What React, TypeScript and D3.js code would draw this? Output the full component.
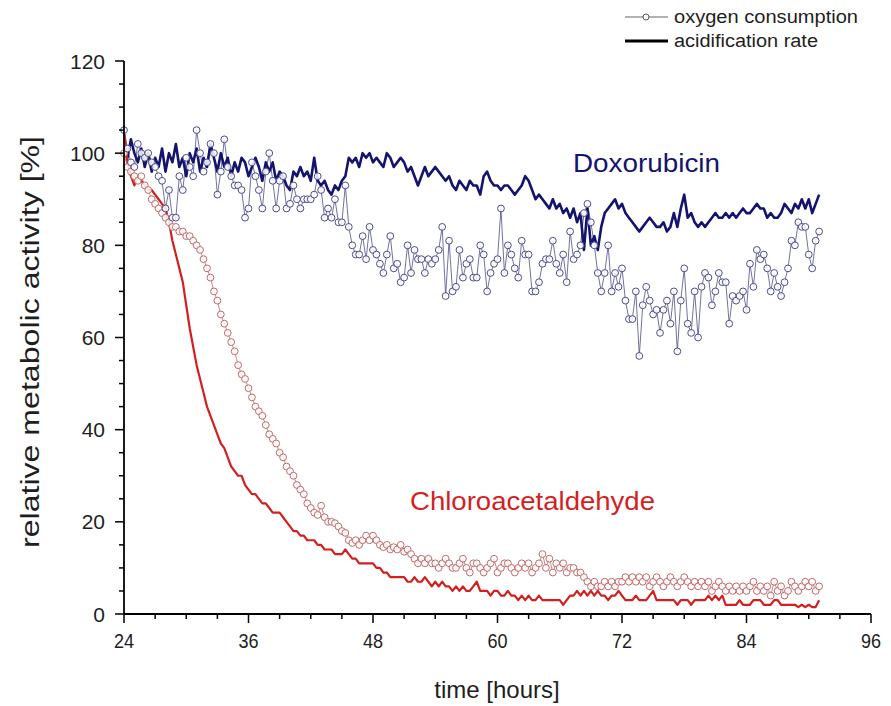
import React from "react";
import * as d3 from "d3";

const startHour = 24;
const stepHours = 1 / 3;

const doxAcidification = [
  100, 99, 103, 100, 98, 101, 97, 100, 96, 99, 97, 101, 96, 100, 98, 102, 97, 99,
  95, 100, 98, 101, 96, 99, 97, 102, 99, 96, 100, 97, 99, 95, 98, 96, 99, 98,
  95, 97, 99, 97, 94, 98, 96, 98, 94, 96, 95, 93, 92, 96, 95, 97, 95, 96,
  94, 99, 94, 93, 94, 92, 91, 93, 92, 94, 95, 99, 98, 99, 97, 100, 99, 100,
  98, 99, 98, 97, 100, 99, 97, 98, 99, 98, 96, 97, 95, 93, 95, 97, 95, 96,
  97, 96, 95, 94, 95, 93, 92, 94, 93, 92, 94, 93, 93, 91, 95, 96, 94, 93,
  93, 92, 93, 93, 92, 91, 92, 93, 95, 94, 92, 90, 91, 90, 89, 88, 90, 88,
  89, 87, 88, 86, 88, 85, 87, 79, 88, 80, 82, 79, 84, 87, 88, 89, 90, 88,
  89, 87, 86, 85, 84, 83, 84, 85, 86, 85, 84, 84, 85, 83, 84, 87, 84, 88,
  91, 86, 87, 85, 84, 85, 84, 85, 86, 87, 86, 86, 87, 86, 87, 86, 87, 88,
  87, 87, 88, 89, 88, 88, 86, 87, 86, 86, 87, 89, 88, 87, 89, 88, 90, 88,
  90, 87, 89, 91,
];

const doxOxygen = [
  105, 101, 98, 97, 102, 100, 99, 100, 98, 97, 95, 94, 88, 92, 86, 86, 95, 92,
  99, 97, 95, 105, 100, 96, 98, 102, 100, 91, 96, 103, 97, 95, 93, 93, 92, 86,
  88, 98, 95, 92, 88, 96, 100, 94, 88, 94, 95, 88, 89, 93, 90, 88, 90, 90,
  90, 91, 95, 92, 86, 88, 86, 90, 85, 85, 93, 84, 80, 78, 78, 82, 77, 84,
  79, 78, 76, 74, 78, 82, 75, 76, 72, 73, 80, 74, 79, 77, 77, 74, 77, 76,
  77, 79, 84, 69, 81, 70, 71, 79, 73, 76, 77, 73, 73, 80, 78, 70, 74, 76,
  77, 88, 74, 80, 78, 75, 73, 81, 78, 78, 70, 70, 72, 76, 77, 77, 81, 76,
  74, 78, 72, 83, 77, 78, 80, 87, 89, 85, 80, 74, 70, 74, 80, 70, 74, 71,
  75, 68, 64, 64, 70, 56, 67, 71, 68, 65, 66, 61, 66, 68, 63, 70, 57, 68,
  75, 63, 61, 70, 60, 71, 74, 73, 67, 70, 74, 72, 72, 63, 69, 68, 69, 70,
  66, 76, 71, 79, 77, 78, 75, 70, 74, 71, 69, 72, 75, 81, 80, 85, 84, 84,
  78, 75, 81, 83,
];

const caaAcidification = [
  105, 98, 95, 93, 95, 94, 93, 92, 92, 91, 90, 89, 88, 85, 81, 78, 75, 72,
  67, 62, 58, 54, 51, 48, 45, 43, 41, 39, 37, 36, 34, 32, 31, 30, 30, 28,
  27, 26, 26, 25, 24, 24, 23, 22, 22, 22, 21, 20, 19, 18, 18, 17, 17, 16,
  16, 16, 15, 15, 14, 14, 14, 13, 13, 13, 14, 13, 12, 12, 11, 11, 11, 11,
  11, 10, 10, 9, 9, 8, 8, 8, 8, 8, 7, 7, 8, 7, 7, 8, 7, 6, 7, 6, 7,
  6, 6, 5, 6, 5, 6, 5, 5, 6, 7, 5, 5, 5, 4, 5, 5, 4, 4, 5, 4, 4,
  3, 4, 3, 4, 3, 3, 4, 3, 3, 3, 3, 3, 3, 2, 3, 4, 4, 5, 4, 5, 4,
  5, 4, 5, 4, 4, 3, 4, 4, 5, 4, 3, 3, 3, 4, 3, 3, 3, 4, 5, 3, 3,
  3, 3, 3, 3, 2, 3, 3, 3, 2, 3, 3, 3, 3, 4, 3, 4, 3, 4, 2, 2, 2,
  2, 3, 2, 2, 2, 3, 3, 3, 2, 2, 2, 3, 3, 2, 2, 2, 2, 2, 1.5, 2, 1.5,
  2, 1.5, 1.5, 3,
];

const caaOxygen = [
  100, 97, 96, 95, 94, 95, 93, 92, 90, 89, 88, 87, 86, 85, 84, 84, 83, 83,
  82, 82, 81, 80, 79, 77, 75, 73, 70, 68, 65, 63, 61, 59, 57, 54, 52, 51,
  49, 47, 45, 44, 43, 41, 39, 38, 37, 35, 34, 32, 31, 30, 28, 27, 26, 24,
  23, 22, 21.5, 23.5, 21, 20, 20, 19.7, 19, 18, 17.6, 16, 15.4, 16, 15, 16, 17, 16,
  17, 16, 15, 14.5, 15, 14, 14.5, 14, 15, 13.5, 14, 13, 12, 11, 12, 11, 12, 11,
  11, 10, 11, 12, 11, 10, 10, 11, 12, 10, 9, 11, 11, 10, 9, 10, 11, 12,
  9, 10, 11, 11, 10, 9, 10, 11, 10, 11, 9, 10, 11, 13, 10, 12, 9, 11,
  10, 11, 9, 10, 10, 9, 9, 8, 7, 6, 7, 6, 6, 7, 6, 7, 6, 7,
  7, 8, 7, 8, 7, 8, 7, 8, 6, 7, 8, 7, 6, 7, 8, 7, 6, 7,
  8, 7, 6, 7, 6, 7, 6, 7, 5, 6, 7, 6, 5, 6, 5, 6, 5, 6,
  5, 6, 7, 5, 6, 5, 6, 4, 7, 5, 6, 4, 5, 7, 6, 5, 6, 7,
  6, 7, 5, 6,
];

const xTicks = [24, 36, 48, 60, 72, 84, 96];
const yTicks = [0, 20, 40, 60, 80, 100, 120];

const W = 891;
const H = 706;
const x = d3.scaleLinear().domain([24, 96]).range([124, 871]);
const y = d3.scaleLinear().domain([0, 120]).range([614, 61]);

const toPoints = (vals: number[]) =>
  vals.map((v, i) => ({ t: startHour + i * stepHours, v }));

const line = d3
  .line<{ t: number; v: number }>()
  .x((d) => x(d.t))
  .y((d) => y(d.v));

const FONT = "'Liberation Sans', Arial, sans-serif";
const NAVY = "#14146e";
const NAVY_LIGHT = "#4c4c8c";
const RED = "#d41f1f";
const RED_LIGHT = "#c06a6a";
const TXT = "#1e1e1e";

export default function App() {
  const doxA = toPoints(doxAcidification);
  const doxO = toPoints(doxOxygen);
  const caaA = toPoints(caaAcidification);
  const caaO = toPoints(caaOxygen);
  const xMinor = d3.range(24, 96.01, 3);
  const yMinor = d3.range(0, 120.01, 5);

  return (
    <div style={{ position: "absolute", left: 0, top: 0 }}>
      <svg width={W} height={H} style={{ display: "block", background: "#fff" }}>
        {/* data lines */}
        <path d={line(caaO) || ""} fill="none" stroke={RED_LIGHT} strokeWidth={0.8} />
        <path d={line(doxO) || ""} fill="none" stroke={NAVY_LIGHT} strokeWidth={0.8} />
        <path d={line(doxA) || ""} fill="none" stroke={NAVY} strokeWidth={2.6} strokeLinejoin="round" />
        <path d={line(caaA) || ""} fill="none" stroke={RED} strokeWidth={2.2} strokeLinejoin="round" />
        {caaO.map((d, i) => (
          <circle key={"c" + i} cx={x(d.t)} cy={y(d.v)} r={3.4} fill="#fff" fillOpacity={0.85} stroke={RED_LIGHT} strokeWidth={1} />
        ))}
        {doxO.map((d, i) => (
          <circle key={"d" + i} cx={x(d.t)} cy={y(d.v)} r={3.4} fill="#fff" fillOpacity={0.85} stroke={NAVY_LIGHT} strokeWidth={1} />
        ))}

        {/* axes */}
        <line x1={x(24)} x2={x(24)} y1={y(0)} y2={y(120)} stroke="#000" strokeWidth={1.8} />
        <line x1={x(24)} x2={x(96)} y1={y(0)} y2={y(0)} stroke="#000" strokeWidth={1.8} />
        {xMinor.map((t) => (
          <line key={"xm" + t} x1={x(t)} x2={x(t)} y1={y(0)} y2={y(0) + (t % 12 === 0 ? 9 : 5)} stroke="#000" strokeWidth={1.5} />
        ))}
        {yMinor.map((v) => (
          <line key={"ym" + v} x1={x(24)} x2={x(24) - (v % 20 === 0 ? 9 : 5)} y1={y(v)} y2={y(v)} stroke="#000" strokeWidth={1.5} />
        ))}
        {xTicks.map((t) => (
          <text
            key={"xt" + t}
            transform={`translate(${x(t)},${y(0) + 34}) scale(0.86,1)`}
            textAnchor="middle"
            fontFamily={FONT}
            fontSize={21}
            fill={TXT}
          >
            {t}
          </text>
        ))}
        {yTicks.map((v) => (
          <text key={"yt" + v} x={x(24) - 19} y={y(v) + 7.5} textAnchor="end" fontFamily={FONT} fontSize={21} fill={TXT}>
            {v}
          </text>
        ))}
        <text x={497} y={698} textAnchor="middle" fontFamily={FONT} fontSize={24} fill={TXT}>
          time [hours]
        </text>
        <text
          transform={`translate(39,342) rotate(-90)`}
          textAnchor="middle"
          fontFamily={FONT}
          fontSize={25}
          fill={TXT}
          textLength={412}
          lengthAdjust="spacingAndGlyphs"
        >
          relative metabolic activity [%]
        </text>

        {/* annotations */}
        <text x={573} y={172} fontFamily={FONT} fontSize={25} fill={NAVY} textLength={147} lengthAdjust="spacingAndGlyphs">
          Doxorubicin
        </text>
        <text x={410} y={510} fontFamily={FONT} fontSize={25} fill={RED} textLength={245} lengthAdjust="spacingAndGlyphs">
          Chloroacetaldehyde
        </text>

        {/* legend */}
        <line x1={625} x2={668} y1={17} y2={17} stroke="#555" strokeWidth={0.9} />
        <circle cx={646} cy={17} r={3} fill="#fff" stroke="#555" strokeWidth={1} />
        <text x={674} y={23} fontFamily={FONT} fontSize={18} fill={TXT} textLength={184} lengthAdjust="spacingAndGlyphs">
          oxygen consumption
        </text>
        <line x1={625} x2={668} y1={41} y2={41} stroke="#000" strokeWidth={2.8} />
        <text x={674} y={47} fontFamily={FONT} fontSize={18} fill={TXT} textLength={144} lengthAdjust="spacingAndGlyphs">
          acidification rate
        </text>
      </svg>
    </div>
  );
}
